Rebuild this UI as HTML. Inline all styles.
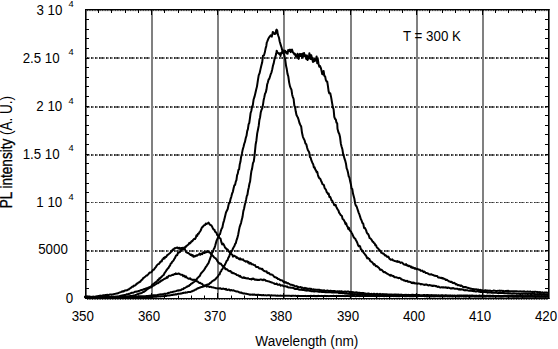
<!DOCTYPE html>
<html><head><meta charset="utf-8"><style>
html,body{margin:0;padding:0;background:#fff;}
svg{display:block;}
text{font-family:'Liberation Sans',sans-serif;fill:#000;}
</style></head><body>
<svg width="558" height="349" viewBox="0 0 558 349">
<rect width="558" height="349" fill="#fff"/>
<defs><pattern id="dp" patternUnits="userSpaceOnUse" x="5" y="0" width="15" height="400"><rect x="0" y="0" width="1" height="400" fill="#303030"/><rect x="1" y="0" width="1" height="400" fill="#707070"/><rect x="2" y="0" width="1" height="400" fill="#a0a0a0"/><rect x="4" y="0" width="1" height="400" fill="#303030"/><rect x="5" y="0" width="1" height="400" fill="#707070"/><rect x="6" y="0" width="1" height="400" fill="#707070"/><rect x="7" y="0" width="1" height="400" fill="#303030"/><rect x="8" y="0" width="1" height="400" fill="#707070"/><rect x="9" y="0" width="1" height="400" fill="#a0a0a0"/><rect x="11" y="0" width="1" height="400" fill="#303030"/><rect x="12" y="0" width="1" height="400" fill="#707070"/><rect x="13" y="0" width="1" height="400" fill="#a0a0a0"/></pattern></defs>
<rect x="87" y="57" width="461" height="2" fill="url(#dp)" shape-rendering="crispEdges"/>
<rect x="87" y="106" width="461" height="2" fill="url(#dp)" shape-rendering="crispEdges"/>
<rect x="87" y="154" width="461" height="2" fill="url(#dp)" shape-rendering="crispEdges"/>
<rect x="87" y="202" width="461" height="1.3" fill="url(#dp)" shape-rendering="crispEdges"/>
<rect x="87" y="250" width="461" height="2" fill="url(#dp)" shape-rendering="crispEdges"/>
<rect x="151" y="10" width="2" height="288" fill="#808080"/>
<rect x="217" y="10" width="2" height="288" fill="#808080"/>
<rect x="283" y="10" width="2" height="288" fill="#808080"/>
<rect x="350" y="10" width="2" height="288" fill="#808080"/>
<rect x="416" y="10" width="2" height="288" fill="#808080"/>
<rect x="482" y="10" width="2" height="288" fill="#808080"/>
<polyline points="84.5,296.66 85.17,296.7 85.84,296.65 86.51,296.49 87.18,296.64 87.85,296.57 88.52,296.71 89.19,296.59 89.86,296.79 90.53,296.77 91.2,296.88 91.87,296.81 92.54,296.83 93.21,296.75 93.88,296.73 94.55,296.94 95.22,296.83 95.89,296.88 96.56,296.87 97.23,296.92 97.9,296.73 98.57,296.74 99.24,296.94 99.91,297.04 100.58,296.78 101.25,296.87 101.92,296.96 102.58,296.91 103.25,296.94 103.92,296.95 104.59,297.08 105.26,297.01 105.93,297.04 106.6,296.94 107.27,297.1 107.94,297.19 108.61,297.12 109.28,297.06 109.95,297 110.62,297.15 111.29,297.16 111.96,297.12 112.63,297.04 113.3,297.1 113.97,297.09 114.64,297.12 115.31,297.22 115.98,297.14 116.65,297.21 117.32,297.34 117.99,297.2 118.66,297.26 119.33,297.33 120,297.25 120.67,297.11 121.33,297.17 122,297.14 122.67,296.88 123.33,296.9 124,296.81 124.67,296.9 125.33,296.57 126,296.61 126.67,296.41 127.33,296.38 128,296.41 128.67,296.3 129.33,296.24 130,296.1 130.71,295.88 131.43,296.01 132.14,295.94 132.86,295.61 133.57,295.42 134.29,295.51 135,295.26 135.68,294.99 136.36,294.85 137.05,294.33 137.73,294.1 138.41,294.02 139.09,293.57 139.77,293.53 140.45,293.33 141.14,293.16 141.82,292.91 142.5,292.31 143.18,292.11 143.85,291.77 144.53,291.47 145.2,291.03 145.88,290.3 146.55,289.88 147.22,289.19 147.9,288.92 148.57,288.39 149.25,287.81 149.92,287.63 150.6,287.55 151.34,287.26 152.09,286.47 152.83,285.91 153.57,285.6 154.31,285.29 155.06,284.78 155.8,284.29 156.53,283.66 157.26,283.19 157.99,283.37 158.71,282.74 159.44,281.66 160.17,281.78 160.9,280.8 161.64,280.71 162.39,280 163.13,279.84 163.87,279.1 164.61,278.76 165.36,278.59 166.1,278.19 166.88,277 167.66,277.6 168.44,276.15 169.22,275.72 170,275.66 170.76,275.77 171.52,275.24 172.28,274.76 173.04,275.08 173.8,274.4 174.48,274.11 175.15,274.21 175.82,273.34 176.5,274.03 177.33,273.97 178.17,273.51 179,273.61 179.7,274.01 180.4,274.61 181.1,274.84 181.8,274.7 182.5,274.98 183.2,276.13 183.9,275.47 184.6,276 185.3,277.09 186,276.4 186.7,277.47 187.4,277.98 188.1,278.46 188.8,278.69 189.5,278.48 190.2,278.24 190.9,279.34 191.6,279.5 192.3,279.81 193,280.02 193.7,279.69 194.4,279.77 195.1,279.71 195.81,280.66 196.53,281.22 197.24,281.13 197.96,281.83 198.67,282.5 199.39,283.09 200.1,282.77 200.86,283.43 201.62,283.7 202.38,284.2 203.14,285.25 203.9,285.78 204.6,285.55 205.3,285.76 206,285.83 206.7,286.61 207.4,286.16 208.1,286.41 208.8,286.43 209.5,287.02 210.2,286.86 210.88,286.69 211.56,287.29 212.25,287.37 212.93,287.39 213.61,287.56 214.29,287.72 214.97,287.86 215.65,288.18 216.34,288.17 217.02,288.36 217.7,288.38 218.4,288.41 219.1,288.33 219.8,288.45 220.5,288.19 221.2,288.88 221.9,289.06 222.6,288.72 223.3,288.59 224,288.99 224.69,288.96 225.38,289.4 226.07,288.92 226.76,289.81 227.44,289.91 228.13,289.81 228.82,289.47 229.51,289.89 230.2,290.46 230.89,290.24 231.57,290.1 232.26,290.44 232.94,290.51 233.63,290.33 234.31,290.69 235,291.01 235.72,291.23 236.44,291.46 237.16,291.54 237.88,291.54 238.6,291.89 239.32,292.43 240.04,292.46 240.76,292.71 241.48,292.59 242.2,293.21 242.91,293.18 243.62,293.56 244.33,293.35 245.04,293.54 245.75,293.66 246.46,293.74 247.17,293.92 247.88,294.14 248.59,294.26 249.3,294.45 250.02,294.69 250.74,294.59 251.46,294.64 252.18,294.49 252.9,294.88 253.62,294.59 254.34,294.52 255.06,294.82 255.78,294.91 256.5,294.77 257.18,295.12 257.86,294.72 258.54,294.75 259.22,294.98 259.9,294.96 260.59,295.01 261.27,295.15 261.95,295.07 262.63,295.31 263.31,294.92 263.99,295.24 264.67,295.4 265.35,295.24 266.03,295.35 266.71,295.44 267.4,295.3 268.08,295.27 268.76,295.12 269.44,295.26 270.12,295.53 270.8,295.41 271.48,295.31 272.16,295.49 272.84,295.48 273.52,295.55 274.2,295.49 274.89,295.6 275.57,295.46 276.25,295.75 276.93,295.66 277.61,295.56 278.29,295.71 278.97,295.65 279.65,295.7 280.33,295.61 281.01,295.66 281.7,295.66 282.38,295.68 283.06,295.8 283.74,295.68 284.42,295.7 285.1,295.82 285.76,295.67 286.43,295.79 287.09,295.83 287.75,295.84 288.42,295.81 289.08,295.65 289.74,295.85 290.41,295.88 291.07,295.75 291.73,295.95 292.4,295.83 293.06,295.75 293.72,295.81 294.39,295.88 295.05,295.81 295.71,295.82 296.38,295.97 297.04,296.08 297.7,295.83 298.37,295.83 299.03,296.11 299.69,295.88 300.36,295.9 301.02,295.91 301.68,295.97 302.35,295.98 303.01,296.02 303.67,296.12 304.34,296.07 305,296.1 305.66,295.82 306.32,296.05 306.98,296.18 307.64,295.91 308.3,296.15 308.96,295.9 309.62,295.93 310.28,295.92 310.94,295.82 311.6,295.96 312.26,295.88 312.92,296.13 313.58,295.86 314.24,295.83 314.9,296.19 315.57,295.98 316.23,296.03 316.89,296.19 317.55,295.95 318.21,295.83 318.87,295.97 319.53,295.99 320.19,295.96 320.85,296.06 321.51,295.86 322.17,296.14 322.83,295.99 323.49,295.98 324.15,296.2 324.81,295.84 325.47,295.94 326.13,296.18 326.79,296.06 327.45,296.08 328.11,295.98 328.77,296.13 329.43,296.09 330.09,295.93 330.75,295.89 331.41,295.92 332.07,296 332.73,295.94 333.39,295.84 334.05,295.91 334.71,296.02 335.38,296.09 336.04,296.01 336.7,295.85 337.36,295.94 338.02,296.07 338.68,295.85 339.34,295.98 340,295.92 340.66,296.04 341.32,296.03 341.98,295.92 342.64,296.09 343.3,296.01 343.96,295.94 344.62,296.07 345.28,296.15 345.94,295.94 346.6,295.93 347.26,296.12 347.92,295.95 348.58,296.08 349.24,296.19 349.9,296.02 350.56,296.05 351.22,295.99 351.88,296.07 352.54,295.88 353.2,295.86 353.86,296.01 354.52,295.86 355.18,296.17 355.85,296.21 356.51,296.05 357.17,295.96 357.83,295.98 358.49,296.06 359.15,295.99 359.81,296.17 360.47,295.96 361.13,296.12 361.79,296.01 362.45,295.88 363.11,296.16 363.77,296.15 364.43,296.05 365.09,296.02 365.75,296.05 366.41,296.03 367.07,295.95 367.73,296.1 368.39,296.1 369.05,296.06 369.71,296.01 370.37,295.98 371.03,295.99 371.69,296.05 372.35,295.88 373.01,295.88 373.67,296.06 374.33,295.95 374.99,296.16 375.65,296.03 376.32,296.04 376.98,296.17 377.64,296.17 378.3,296.05 378.96,296.03 379.62,296.2 380.28,295.94 380.94,295.92 381.6,296.02 382.26,295.9 382.92,295.96 383.58,296.13 384.24,296.19 384.9,296.05 385.56,296.07 386.22,295.96 386.88,296.18 387.54,296.08 388.2,295.96 388.86,296.05 389.52,296.09 390.18,296.13 390.84,296.24 391.5,296.12 392.16,295.89 392.82,296.04 393.48,296.19 394.14,295.93 394.8,296.14 395.46,295.9 396.12,296.25 396.79,295.97 397.45,296.16 398.11,296.01 398.77,296.25 399.43,296.07 400.09,296.16 400.75,295.9 401.41,296.08 402.07,295.94 402.73,295.9 403.39,296.05 404.05,296.04 404.71,296.24 405.37,296.16 406.03,296.05 406.69,296.14 407.35,296.16 408.01,295.96 408.67,296.13 409.33,296.09 409.99,296.17 410.65,296.16 411.31,296.19 411.97,296.15 412.63,296.17 413.29,296.16 413.95,296.23 414.61,296.03 415.27,296.04 415.93,296.18 416.6,296.09 417.26,296.17 417.92,296.04 418.58,295.96 419.24,296.04 419.9,296.01 420.56,296.05 421.22,296.13 421.88,295.95 422.54,295.98 423.2,296.05 423.86,296.07 424.52,296.21 425.18,296.08 425.84,295.93 426.5,296.28 427.16,296.09 427.82,296.2 428.48,296.1 429.14,296.04 429.8,296.28 430.46,295.97 431.12,296.17 431.78,296.14 432.44,296.06 433.1,296.2 433.76,296.19 434.42,296.12 435.08,296.14 435.74,296.07 436.4,295.97 437.07,295.96 437.73,296.15 438.39,296.07 439.05,296.21 439.71,296.03 440.37,296.25 441.03,295.97 441.69,296.15 442.35,295.98 443.01,296.07 443.67,296.29 444.33,296.17 444.99,296.15 445.65,296.09 446.31,296.11 446.97,295.97 447.63,296.12 448.29,296.1 448.95,296.25 449.61,296.15 450.27,296.07 450.93,296.1 451.59,296.13 452.25,296.07 452.91,296.27 453.57,296 454.23,296.09 454.89,295.95 455.55,296.08 456.21,296.27 456.88,296.3 457.54,296.15 458.2,296.14 458.86,296.16 459.52,296.13 460.18,296.09 460.84,295.96 461.5,295.95 462.16,296 462.82,296.1 463.48,296.14 464.14,295.96 464.8,296.1 465.46,296.13 466.12,296.31 466.78,296.12 467.44,295.97 468.1,296.16 468.76,296.13 469.42,296.21 470.08,296.24 470.74,296.16 471.4,296.09 472.06,296.12 472.72,296.18 473.38,296.24 474.04,296.31 474.7,296.14 475.36,296.27 476.02,296.32 476.68,296.06 477.35,296.1 478.01,296.28 478.67,296.21 479.33,296.23 479.99,296.18 480.65,296.32 481.31,296.14 481.97,296.11 482.63,296.01 483.29,296.01 483.95,296.03 484.61,296.18 485.27,296.11 485.93,296.32 486.59,295.98 487.25,296.07 487.91,296.1 488.57,296.25 489.23,296.18 489.89,296.31 490.55,296.19 491.21,296.01 491.87,296.05 492.53,296.22 493.19,296.09 493.85,296.16 494.51,295.98 495.17,296.12 495.83,296.14 496.49,296.25 497.15,296.06 497.82,295.99 498.48,296.21 499.14,296.18 499.8,296.18 500.46,296.07 501.12,296.01 501.78,296.03 502.44,296.14 503.1,296.19 503.76,295.99 504.42,296.06 505.08,296.02 505.74,296.1 506.4,296.16 507.06,296.18 507.72,296.13 508.38,296.24 509.04,296.29 509.7,296.02 510.36,296.34 511.02,296.13 511.68,296.29 512.34,296.25 513,296.34 513.66,296.06 514.32,296.3 514.98,296.16 515.64,296.06 516.3,296.35 516.96,296.35 517.62,296.35 518.29,296.22 518.95,296.24 519.61,296.27 520.27,296.07 520.93,296.22 521.59,296.04 522.25,296.09 522.91,296.16 523.57,296.14 524.23,296.13 524.89,296.23 525.55,296.31 526.21,296.16 526.87,296.26 527.53,296.18 528.19,296.13 528.85,296.06 529.51,296.15 530.17,296.25 530.83,296.01 531.49,296.05 532.15,296.06 532.81,296.19 533.47,296.27 534.13,296.16 534.79,296.06 535.45,296.36 536.11,296.22 536.77,296.2 537.43,296.13 538.1,296.09 538.76,296.31 539.42,296.12 540.08,296.17 540.74,296.35 541.4,296.05 542.06,296.25 542.72,296.21 543.38,296.23 544.04,296.37 544.7,296.09 545.36,296.23 546.02,296.24 546.68,296.28 547.34,296.05 548,296.2" fill="none" stroke="#000" stroke-width="2" stroke-linejoin="round"/>
<polyline points="84.5,296.95 85.2,296.96 85.9,297.1 86.6,296.92 87.3,296.83 88,296.96 88.7,296.93 89.4,296.96 90.1,296.86 90.8,297.01 91.5,296.92 92.2,296.99 92.9,296.89 93.6,296.85 94.3,296.94 95,296.88 95.71,296.57 96.43,296.57 97.14,296.26 97.86,296.31 98.57,295.95 99.29,295.9 100,295.61 100.72,295.67 101.45,295.73 102.17,295.63 102.9,295.32 103.62,295.15 104.35,295.35 105.08,295.08 105.8,295 106.51,295.12 107.22,294.77 107.93,294.98 108.64,294.94 109.35,294.71 110.06,294.49 110.77,294.51 111.48,294.69 112.19,294.41 112.9,294.5 113.62,294.15 114.34,294 115.06,293.86 115.78,293.69 116.5,293.56 117.22,293.45 117.94,293.32 118.66,292.88 119.38,292.53 120.1,292.38 120.82,292.04 121.54,291.62 122.26,291.66 122.98,291.22 123.7,291.44 124.42,290.76 125.14,290.35 125.86,290.53 126.58,290.22 127.3,290.2 128.1,289.57 128.9,289.43 129.7,288.41 130.5,288.17 131.17,287.58 131.84,287.15 132.51,286.43 133.19,286.62 133.86,285.59 134.53,285.73 135.2,285.34 135.93,284.77 136.66,283.61 137.39,283.79 138.11,282.76 138.84,282.55 139.57,281.74 140.3,281.82 141.04,280.42 141.79,279.83 142.53,279.31 143.27,277.98 144.01,277.63 144.76,277.03 145.5,276.5 146.28,275.5 147.05,275.47 147.82,274.7 148.6,273.8 149.35,272.8 150.1,272.57 150.85,272.46 151.6,271.96 152.3,270.92 153,269.72 153.7,269.77 154.4,268.92 155.1,267.94 155.8,267.16 156.55,265.77 157.3,264.87 158.05,264.12 158.8,264.02 159.55,263.15 160.3,261.87 161,261.35 161.7,261.42 162.4,259.39 163.1,259.03 163.8,257.89 164.5,258.55 165.2,256.82 165.97,257.09 166.73,256.08 167.5,254.67 168.27,254.68 169.03,253.79 169.8,253.28 170.53,252.35 171.25,251.81 171.97,251.02 172.7,249.49 173.38,249.99 174.05,248.77 174.72,248.12 175.4,248.29 176.07,247.85 176.75,247.83 177.43,247.44 178.1,248.4 178.78,248.49 179.45,247.7 180.12,248.9 180.8,248.16 181.67,247.88 182.53,247.83 183.4,248.75 184.1,248.7 184.8,249.15 186.1,252.08 187,252.62 187.9,252.96 188.57,252.98 189.25,253.89 189.93,254.29 190.6,254.88 191.32,254.54 192.04,255.64 192.76,255.16 193.48,256.75 194.2,255.98 194.88,256.5 195.55,256.09 196.22,255.4 196.9,255.82 197.57,255.13 198.25,254.8 198.93,254.63 199.6,253.45 200.28,254.83 200.95,254.16 201.62,253.55 202.3,254.16 203,252.69 203.7,252.18 204.4,253.01 205.1,252.21 205.8,252.46 206.48,251.97 207.15,251.92 207.82,251.27 208.5,251.56 209.4,252.45 210.3,252.7 211.2,254.5 212.1,255.11 212.78,255.79 213.45,256.46 214.12,257.41 214.8,257.82 215.48,258.14 216.15,259.16 216.82,259.82 217.5,261.37 218.18,262.12 218.85,262.86 219.52,263.75 220.2,263.57 220.96,263.8 221.72,264.95 222.48,266 223.24,266.04 224,266.93 224.67,267.47 225.34,269.14 226.01,269.38 226.69,269.07 227.36,269.64 228.03,270.35 228.7,270.89 229.42,271.21 230.14,270.97 230.87,271.38 231.59,272.69 232.31,272.44 233.03,273.21 233.76,273.12 234.48,273.56 235.2,273.9 235.9,274.03 236.6,274.94 237.3,275.14 238,275.13 238.7,275.56 239.4,276.44 240.1,275.81 240.8,276.83 241.5,277.28 242.2,277.78 242.91,277.88 243.62,277.21 244.33,277.95 245.04,277.67 245.75,278.25 246.46,278.16 247.17,278.57 247.88,278.16 248.59,278.61 249.3,278.89 250.02,278.96 250.74,279.16 251.46,279.47 252.18,278.65 252.9,279.08 253.62,278.56 254.34,279.41 255.06,279.81 255.78,279.4 256.5,279.82 257.22,280.02 257.94,279.69 258.66,279.93 259.38,280.01 260.1,279.49 260.82,279.4 261.54,279.76 262.26,279.66 262.98,280.24 263.7,279.56 264.41,279.77 265.12,279.98 265.83,280.8 266.54,280.85 267.25,281.08 267.96,281.23 268.67,281.4 269.38,281.52 270.09,282.05 270.8,282.12 271.52,282.51 272.24,282.61 272.96,282.88 273.68,283.09 274.4,283.79 275.12,284.01 275.84,284.08 276.56,283.48 277.28,284.36 278,284.81 278.71,284.74 279.42,284.37 280.13,284.94 280.84,285.7 281.55,285.39 282.26,285.24 282.97,285.81 283.68,286.35 284.39,286.31 285.1,286.17 285.82,286.22 286.54,286.85 287.26,286.52 287.98,287.35 288.7,287.56 289.42,287.49 290.14,287.54 290.86,287.66 291.58,287.78 292.3,287.8 293.02,287.89 293.74,288.03 294.46,288.81 295.18,288.95 295.9,288.71 296.62,288.97 297.34,288.9 298.06,289.15 298.78,289.58 299.5,289.64 300.18,289.74 300.87,289.77 301.55,289.89 302.24,289.63 302.92,290.07 303.61,289.64 304.29,290.15 304.97,290.28 305.66,290.4 306.34,290.05 307.03,290.71 307.71,290.33 308.39,290.35 309.08,290.77 309.76,290.88 310.45,290.66 311.13,291.16 311.82,291.16 312.5,291.28 313.16,291.06 313.83,291.53 314.49,291.42 315.15,291.39 315.82,291.24 316.48,291.37 317.14,291.49 317.81,291.27 318.47,291.46 319.13,291.92 319.79,291.67 320.46,291.73 321.12,291.69 321.78,291.98 322.45,292.05 323.11,291.94 323.77,291.84 324.44,292.1 325.1,292.18 325.79,292 326.49,292.17 327.18,292.21 327.88,292.3 328.57,292.2 329.27,292.09 329.96,292.26 330.66,292.2 331.35,292.3 332.04,292.62 332.74,292.53 333.43,292.41 334.13,292.51 334.82,292.58 335.52,292.58 336.21,292.46 336.91,292.49 337.6,292.3 338.26,292.67 338.93,293.02 339.59,292.65 340.25,293.13 340.92,292.77 341.58,292.9 342.24,293.25 342.91,292.93 343.57,293.07 344.23,293.44 344.89,293.26 345.56,293.49 346.22,293.69 346.88,293.31 347.55,293.75 348.21,293.88 348.87,293.67 349.54,293.71 350.2,293.94 350.86,293.95 351.52,294.14 352.18,293.72 352.84,293.97 353.5,294.19 354.16,294.16 354.82,294.05 355.48,294.28 356.14,294.29 356.8,294.1 357.46,294.03 358.12,294.34 358.78,294.35 359.44,294.44 360.1,294.52 360.76,294.37 361.42,294.45 362.08,294.76 362.74,294.53 363.4,294.5 364.06,294.56 364.72,294.84 365.38,295.03 366.04,295.01 366.7,294.68 367.36,294.94 368.02,294.89 368.68,295.14 369.34,295.1 370,295.08 370.67,295.03 371.33,295.31 372,294.95 372.67,295.11 373.33,295.03 374,295.34 374.67,295.41 375.33,295.3 376,295.38 376.67,295.27 377.33,295.08 378,295.31 378.67,295.51 379.33,295.26 380,295.46 380.67,295.16 381.33,295.44 382,295.56 382.67,295.44 383.33,295.21 384,295.44 384.67,295.33 385.33,295.58 386,295.52 386.67,295.48 387.33,295.54 388,295.38 388.67,295.5 389.33,295.65 390,295.62 390.67,295.78 391.33,295.69 392,295.81 392.67,295.53 393.33,295.63 394,295.69 394.67,295.52 395.33,295.74 396,295.66 396.67,295.71 397.33,295.71 398,295.8 398.67,295.88 399.33,295.75 400,295.89 400.67,295.63 401.33,295.73 402,295.7 402.67,295.9 403.33,295.85 404,295.76 404.67,295.87 405.33,295.85 406,295.71 406.67,296.02 407.33,295.88 408,295.98 408.67,296.04 409.33,296.08 410,295.93 410.67,295.87 411.33,295.85 412,295.9 412.67,296.01 413.33,295.94 414,295.9 414.67,295.81 415.33,295.92 416,296.11 416.67,296.06 417.33,296.02 418,296.15 418.67,296.11 419.33,295.86 420,296.12 420.67,295.95 421.33,296.11 422,295.94 422.67,295.99 423.33,295.85 424,295.98 424.67,296.11 425.33,296.09 426,296.19 426.67,296.08 427.33,296.18 428,296.17 428.67,296.16 429.33,296.21 430,296.06 430.67,296.28 431.33,296.22 432,295.94 432.67,295.95 433.33,296.19 434,296.2 434.67,296.07 435.33,296.33 436,296.13 436.67,296.27 437.33,296.32 438,296.12 438.67,296.05 439.33,296.17 440,296.12 440.67,296.29 441.33,296.07 442,296.33 442.67,296.4 443.33,296.23 444,296.2 444.67,296.31 445.33,296.27 446,296.17 446.67,296.12 447.33,296.44 448,296.19 448.67,296.31 449.33,296.36 450,296.39 450.66,296.36 451.32,296.22 451.99,296.36 452.65,296.38 453.31,296.19 453.97,296.39 454.64,296.16 455.3,296.34 455.96,296.21 456.62,296.23 457.28,296.41 457.95,296.19 458.61,296.38 459.27,296.44 459.93,296.23 460.59,296.35 461.26,296.49 461.92,296.31 462.58,296.38 463.24,296.46 463.91,296.44 464.57,296.52 465.23,296.32 465.89,296.54 466.55,296.46 467.22,296.37 467.88,296.25 468.54,296.48 469.2,296.4 469.86,296.34 470.53,296.51 471.19,296.51 471.85,296.51 472.51,296.3 473.18,296.33 473.84,296.29 474.5,296.43 475.16,296.57 475.82,296.55 476.49,296.57 477.15,296.29 477.81,296.45 478.47,296.37 479.14,296.44 479.8,296.48 480.46,296.5 481.12,296.3 481.78,296.59 482.45,296.41 483.11,296.53 483.77,296.31 484.43,296.5 485.09,296.5 485.76,296.64 486.42,296.33 487.08,296.46 487.74,296.36 488.41,296.34 489.07,296.62 489.73,296.5 490.39,296.54 491.05,296.52 491.72,296.48 492.38,296.49 493.04,296.38 493.7,296.6 494.36,296.59 495.03,296.51 495.69,296.69 496.35,296.55 497.01,296.45 497.68,296.59 498.34,296.62 499,296.43 499.66,296.6 500.32,296.64 500.99,296.53 501.65,296.64 502.31,296.67 502.97,296.43 503.64,296.64 504.3,296.51 504.96,296.48 505.62,296.61 506.28,296.53 506.95,296.6 507.61,296.53 508.27,296.48 508.93,296.62 509.59,296.56 510.26,296.59 510.92,296.54 511.58,296.63 512.24,296.6 512.91,296.72 513.57,296.57 514.23,296.66 514.89,296.55 515.55,296.48 516.22,296.69 516.88,296.62 517.54,296.66 518.2,296.74 518.86,296.53 519.53,296.57 520.19,296.57 520.85,296.6 521.51,296.81 522.18,296.67 522.84,296.69 523.5,296.61 524.16,296.68 524.82,296.66 525.49,296.82 526.15,296.64 526.81,296.78 527.47,296.65 528.14,296.68 528.8,296.63 529.46,296.76 530.12,296.68 530.78,296.79 531.45,296.72 532.11,296.66 532.77,296.63 533.43,296.77 534.09,296.6 534.76,296.77 535.42,296.59 536.08,296.78 536.74,296.76 537.41,296.73 538.07,296.8 538.73,296.62 539.39,296.71 540.05,296.8 540.72,296.86 541.38,296.77 542.04,296.79 542.7,296.77 543.36,296.85 544.03,296.69 544.69,296.64 545.35,296.88 546.01,296.83 546.68,296.67 547.34,296.82 548,296.8" fill="none" stroke="#000" stroke-width="2" stroke-linejoin="round"/>
<polyline points="84.5,297.26 85.16,297.29 85.82,297.27 86.48,297.33 87.15,297.19 87.81,297.21 88.47,297.19 89.13,297.21 89.79,297.36 90.45,297.31 91.11,297.24 91.77,297.25 92.44,297.39 93.1,297.25 93.76,297.3 94.42,297.38 95.08,297.44 95.74,297.45 96.4,297.34 97.06,297.3 97.73,297.32 98.39,297.43 99.05,297.43 99.71,297.5 100.37,297.48 101.03,297.51 101.69,297.39 102.35,297.4 103.02,297.47 103.68,297.51 104.34,297.45 105,297.57 105.68,297.35 106.37,297.39 107.05,297.28 107.74,297.32 108.42,297.27 109.11,297.16 109.79,297.16 110.47,297.18 111.16,296.97 111.84,296.91 112.53,296.84 113.21,296.84 113.89,296.73 114.58,296.62 115.26,296.77 115.95,296.54 116.63,296.45 117.32,296.6 118,296.37 118.7,296.4 119.4,296.31 120.1,295.93 120.8,295.75 121.5,295.88 122.2,295.4 122.9,295.28 123.6,295.18 124.3,295.03 125,295.17 125.71,294.74 126.43,294.3 127.14,294.53 127.86,294.18 128.57,293.82 129.29,293.9 130,293.55 130.74,293.31 131.49,292.85 132.23,292.75 132.97,292.83 133.71,292.45 134.46,292.06 135.2,291.62 135.93,291.78 136.66,291.51 137.39,291.47 138.11,291.19 138.84,291.02 139.57,290.63 140.3,290.49 141.04,290.07 141.79,290.03 142.53,289.81 143.27,289.58 144.01,289.08 144.76,289.13 145.5,288.77 146.23,288.25 146.96,288.21 147.69,288.06 148.41,287.48 149.14,287.71 149.87,287.09 150.6,286.99 151.34,286.22 152.09,284.93 152.83,284.26 153.57,284.21 154.31,283.28 155.06,282.58 155.8,282.26 156.53,281.55 157.26,280.87 157.99,279.8 158.71,279.94 159.44,278.25 160.17,278.51 160.9,277.3 161.58,277.05 162.27,276.01 162.95,275.36 163.63,275.05 164.32,273.49 165,272.36 165.71,271.64 166.43,270.19 167.14,269.47 167.86,268.34 168.57,267.83 169.29,266.26 170,265.63 170.72,263.56 171.44,263.21 172.16,261.77 172.88,261.15 173.6,260.29 174.32,258.85 175.04,257.93 175.76,256.03 176.48,255.14 177.2,255.34 177.92,252.85 178.64,252.74 179.36,252.34 180.08,251.82 180.8,250.19 181.5,249.9 182.2,249.6 182.9,249.44 183.6,248.14 184.3,247.36 185.02,247.7 185.73,247.05 186.45,245.65 187.17,245.64 187.88,244.85 188.6,244.45 189.32,242.86 190.03,243.34 190.75,242.56 191.47,241.24 192.18,241.37 192.9,240.24 193.62,239.45 194.33,238.71 195.05,238.94 195.77,237.7 196.48,235.37 197.2,235.88 197.92,233.81 198.63,233.81 199.35,232.33 200.07,231.63 200.78,230.36 201.5,228.33 202.22,227.16 202.95,226.6 203.68,225.58 204.4,225.14 205.1,224.94 205.8,223.56 206.5,224.01 207.17,223.42 207.83,223.57 208.5,222.56 209.3,223.86 210.1,224.8 210.82,225.09 211.55,225.64 212.28,227.05 213,228.69 213.7,229.62 214.4,229.65 215.1,231.77 215.8,232.1 216.53,233.02 217.25,235.27 217.97,235.75 218.7,236.62 219.6,238 220.5,238.52 221.35,242.12 222.2,244.49 222.92,243.52 223.64,244.39 224.36,245.9 225.08,247.65 225.8,248.12 226.52,249.08 227.24,249.17 227.96,249.92 228.68,251.56 229.4,251.48 230.12,253.59 230.84,254.02 231.56,254.29 232.28,254.66 233,256.63 233.7,256.11 234.4,255.68 235.1,256.38 235.8,256.38 236.5,257.95 237.2,257.31 237.92,258.13 238.65,258.66 239.38,259.36 240.1,258.24 240.82,259.58 241.55,259.3 242.28,259.74 243,259.31 243.7,260.44 244.4,260.82 245.1,261.19 245.8,261.65 246.5,261.27 247.2,261.2 247.9,262.58 248.6,261.93 249.3,263.66 250.02,263.09 250.74,262.87 251.46,264.37 252.18,264.27 252.9,264.36 253.62,264.82 254.34,265.28 255.06,265.11 255.78,266.63 256.5,267.06 257.22,266.89 257.94,266.89 258.66,267.72 259.38,268.43 260.1,268.51 260.82,268.56 261.54,269.19 262.26,268.85 262.98,270.11 263.7,270.75 264.41,270.88 265.12,271.37 265.83,271.62 266.54,271.28 267.25,272.85 267.96,273.19 268.67,272.7 269.38,273.44 270.09,274.3 270.8,274.61 271.52,274.42 272.24,274.86 272.96,275.23 273.68,276.25 274.4,276.89 275.12,277.3 275.84,277.32 276.56,277.96 277.28,278.1 278,279.11 278.71,279.09 279.42,279.3 280.13,280.2 280.84,280.11 281.55,280.36 282.26,280.48 282.97,281.15 283.68,282.02 284.39,281.5 285.1,282.59 285.82,282.15 286.54,282.53 287.26,283.42 287.98,283.08 288.7,283.57 289.42,283.83 290.14,284.65 290.86,284.69 291.58,284.68 292.3,285 293.02,285.44 293.74,285.33 294.46,285.94 295.18,286.27 295.9,286.37 296.62,286.08 297.34,286.98 298.06,286.8 298.78,287.41 299.5,287.36 300.18,287.3 300.87,287.02 301.55,287.96 302.24,287.47 302.92,287.91 303.61,288.17 304.29,288.4 304.97,287.89 305.66,288.64 306.34,288.21 307.03,288.42 307.71,288.98 308.39,288.68 309.08,288.82 309.76,288.61 310.45,289.07 311.13,288.79 311.82,289.34 312.5,289.56 313.16,289.49 313.83,289.3 314.49,289.98 315.15,289.63 315.82,289.61 316.48,289.79 317.14,289.64 317.81,289.75 318.47,289.67 319.13,289.9 319.79,289.79 320.46,290.29 321.12,290.18 321.78,290.28 322.45,290.48 323.11,290.37 323.77,290.91 324.44,290.35 325.1,290.75 325.79,290.87 326.49,290.7 327.18,290.57 327.88,290.58 328.57,291.12 329.27,290.84 329.96,291.03 330.66,290.63 331.35,290.86 332.04,291.13 332.74,291.04 333.43,291.1 334.13,290.95 334.82,291.37 335.52,291.16 336.21,291.38 336.91,291.38 337.6,291.17 338.26,291.32 338.93,291.4 339.59,291.23 340.25,291.44 340.92,291.34 341.58,291.22 342.24,291.57 342.91,291.64 343.57,291.79 344.23,291.78 344.89,291.54 345.56,291.58 346.22,292 346.88,291.67 347.55,291.54 348.21,291.57 348.87,291.77 349.54,292.28 350.2,291.72 350.89,292.33 351.59,291.99 352.28,292.14 352.98,292.09 353.67,292.64 354.37,292.67 355.06,292.32 355.76,292.62 356.45,292.3 357.14,292.57 357.84,292.78 358.53,292.72 359.23,292.96 359.92,292.65 360.62,293.29 361.31,293.01 362.01,292.85 362.7,293.04 363.36,292.98 364.03,293.13 364.69,293.53 365.35,293.41 366.02,293.67 366.68,293.72 367.35,293.85 368.01,293.5 368.67,293.51 369.34,293.79 370,294.03 370.67,294.05 371.33,293.83 372,293.95 372.67,294.15 373.33,294.13 374,293.69 374.67,294.1 375.33,294.14 376,294.08 376.67,294.02 377.33,293.79 378,294.13 378.67,294.26 379.33,294.25 380,293.88 380.67,294.33 381.33,294.29 382,294.37 382.67,294.08 383.33,294.27 384,294.14 384.67,294.26 385.33,294.31 386,294.39 386.67,294.17 387.33,294.53 388,294.64 388.67,294.43 389.33,294.48 390,294.46 390.67,294.43 391.33,294.47 392,294.47 392.67,294.79 393.33,294.61 394,294.44 394.67,294.48 395.33,294.58 396,294.44 396.67,294.76 397.33,294.85 398,294.5 398.67,294.6 399.33,294.68 400,294.67 400.67,294.93 401.33,294.59 402,294.83 402.67,294.93 403.33,295.07 404,294.87 404.67,294.91 405.33,295.06 406,294.68 406.67,294.86 407.33,295.09 408,294.83 408.67,294.99 409.33,295.06 410,294.99 410.67,295.08 411.33,294.95 412,294.77 412.67,294.79 413.33,294.79 414,295.1 414.67,295 415.33,294.96 416,294.83 416.67,295.25 417.33,295.11 418,294.89 418.67,295.18 419.33,295.09 420,295.22 420.67,295.31 421.33,295.32 422,295.16 422.67,295.13 423.33,295.1 424,294.96 424.67,295 425.33,295.37 426,295.12 426.67,295.03 427.33,295.11 428,294.98 428.67,295.29 429.33,295.12 430,295.23 430.67,295.14 431.33,295.03 432,295.46 432.67,295.24 433.33,295.13 434,295.14 434.67,295.25 435.33,295.25 436,295.15 436.67,295.18 437.33,295.36 438,295.51 438.67,295.18 439.33,295.36 440,295.49 440.67,295.54 441.33,295.26 442,295.24 442.67,295.29 443.33,295.46 444,295.57 444.67,295.42 445.33,295.3 446,295.33 446.67,295.53 447.33,295.39 448,295.42 448.67,295.5 449.33,295.45 450,295.52 450.66,295.35 451.32,295.51 451.99,295.62 452.65,295.52 453.31,295.61 453.97,295.64 454.64,295.54 455.3,295.71 455.96,295.65 456.62,295.67 457.28,295.56 457.95,295.6 458.61,295.75 459.27,295.53 459.93,295.72 460.59,295.41 461.26,295.42 461.92,295.54 462.58,295.71 463.24,295.59 463.91,295.49 464.57,295.74 465.23,295.56 465.89,295.57 466.55,295.56 467.22,295.56 467.88,295.6 468.54,295.72 469.2,295.75 469.86,295.51 470.53,295.9 471.19,295.57 471.85,295.71 472.51,295.54 473.18,295.8 473.84,295.67 474.5,295.84 475.16,295.68 475.82,295.9 476.49,295.61 477.15,295.8 477.81,295.88 478.47,295.75 479.14,295.61 479.8,295.61 480.46,295.8 481.12,295.63 481.78,295.85 482.45,295.76 483.11,295.77 483.77,295.76 484.43,295.81 485.09,295.91 485.76,295.92 486.42,295.68 487.08,295.96 487.74,295.79 488.41,296.07 489.07,295.8 489.73,295.75 490.39,295.77 491.05,295.92 491.72,295.91 492.38,295.81 493.04,295.82 493.7,295.81 494.36,296.11 495.03,295.96 495.69,295.92 496.35,295.96 497.01,295.99 497.68,295.95 498.34,296.03 499,296.1 499.66,296.01 500.32,296 500.99,295.95 501.65,296.1 502.31,296.02 502.97,296.08 503.64,295.97 504.3,296.15 504.96,295.97 505.62,296.13 506.28,295.97 506.95,296.04 507.61,296.26 508.27,296.15 508.93,296.11 509.59,296.2 510.26,296.22 510.92,296.13 511.58,296.05 512.24,295.96 512.91,296.04 513.57,296.32 514.23,296.16 514.89,296.18 515.55,296.19 516.22,296.07 516.88,296.19 517.54,296.07 518.2,296.29 518.86,296.35 519.53,296.22 520.19,296.37 520.85,296.39 521.51,296.16 522.18,296.25 522.84,296.14 523.5,296.23 524.16,296.42 524.82,296.34 525.49,296.1 526.15,296.36 526.81,296.29 527.47,296.12 528.14,296.38 528.8,296.28 529.46,296.19 530.12,296.26 530.78,296.2 531.45,296.22 532.11,296.35 532.77,296.2 533.43,296.25 534.09,296.28 534.76,296.42 535.42,296.43 536.08,296.48 536.74,296.48 537.41,296.33 538.07,296.35 538.73,296.26 539.39,296.55 540.05,296.49 540.72,296.53 541.38,296.32 542.04,296.43 542.7,296.39 543.36,296.61 544.03,296.35 544.69,296.42 545.35,296.5 546.01,296.49 546.68,296.41 547.34,296.51 548,296.5" fill="none" stroke="#000" stroke-width="2" stroke-linejoin="round"/>
<polyline points="84.5,297.09 85.17,297 85.84,296.99 86.51,296.9 87.18,297.04 87.85,297.08 88.52,297.02 89.19,297.04 89.86,296.96 90.53,297.19 91.2,297.12 91.87,297.08 92.54,297.16 93.21,297.15 93.88,297.14 94.55,297.13 95.22,297.16 95.89,297.19 96.56,297.23 97.23,297.24 97.9,297.22 98.57,297.27 99.24,297.2 99.91,297.1 100.58,297.12 101.25,297.3 101.92,297.13 102.58,297.2 103.25,297.26 103.92,297.34 104.59,297.17 105.26,297.21 105.93,297.25 106.6,297.26 107.27,297.32 107.94,297.38 108.61,297.38 109.28,297.45 109.95,297.46 110.62,297.28 111.29,297.28 111.96,297.37 112.63,297.38 113.3,297.47 113.97,297.45 114.64,297.47 115.31,297.43 115.98,297.47 116.65,297.48 117.32,297.45 117.99,297.51 118.66,297.4 119.33,297.55 120,297.53 120.67,297.58 121.33,297.47 122,297.37 122.67,297.42 123.33,297.43 124,297.38 124.67,297.34 125.33,297.39 126,297.31 126.67,297.46 127.33,297.28 128,297.4 128.67,297.42 129.33,297.37 130,297.42 130.67,297.35 131.33,297.37 132,297.24 132.67,297.2 133.33,297.24 134,297.28 134.67,297.32 135.33,297.16 136,297.19 136.67,297.16 137.33,297.27 138,297.16 138.67,297.27 139.33,297.15 140,297.11 140.67,297.1 141.33,297.03 142,297.01 142.67,297.07 143.33,297.05 144,297.22 144.67,297.12 145.33,297.14 146,297.07 146.67,297.04 147.33,296.93 148,296.93 148.67,297.13 149.33,296.97 150,296.96 150.68,297.02 151.37,296.89 152.05,296.85 152.74,296.97 153.42,296.82 154.11,296.71 154.79,296.67 155.47,296.59 156.16,296.65 156.84,296.63 157.53,296.48 158.21,296.47 158.89,296.29 159.58,296.38 160.26,296.44 160.95,296.22 161.63,296.27 162.32,296.16 163,296.15 163.7,296.14 164.4,295.91 165.1,296.06 165.8,295.99 166.5,295.89 167.2,295.55 167.9,295.37 168.6,295.41 169.3,295.41 170,295.29 170.69,295.16 171.39,295.07 172.08,294.9 172.78,294.93 173.47,294.51 174.17,294.65 174.86,294.56 175.56,294.28 176.25,294.5 176.94,294.18 177.64,294.06 178.33,293.7 179.03,293.82 179.72,293.7 180.42,293.74 181.11,293.35 181.81,293.51 182.5,292.96 183.17,293.08 183.85,292.67 184.52,292.84 185.19,292.86 185.87,292.31 186.54,292.61 187.21,292.45 187.89,291.93 188.56,291.93 189.23,291.89 189.91,291.98 190.58,292.04 191.25,291.5 191.93,291.32 192.6,291.32 193.37,290.59 194.13,290.56 194.9,289.96 195.67,289.46 196.43,289.39 197.2,288.53 197.91,288.16 198.62,288.35 199.34,287.73 200.05,287.61 200.76,287.26 201.47,287.09 202.19,286.91 202.9,286.68 203.61,285.97 204.32,286.34 205.04,285.55 205.75,285.23 206.46,285.28 207.18,284.59 207.89,284.55 208.6,284.44 209.32,283.86 210.05,282.94 210.78,282.88 211.5,281.99 212.22,281.29 212.95,280.75 213.68,280.62 214.4,279.77 215.15,279.61 215.9,278.59 216.65,277.66 217.4,277.03 218.15,276.11 218.9,274.6 219.6,274.39 220.3,272.03 221,271.55 221.7,269.67 222.4,269.08 223.08,267.75 223.76,266.07 224.44,265.67 225.12,264.21 225.8,262.9 226.63,260.77 227.47,260.33 228.3,257.89 229.13,256.68 229.97,253.82 230.8,253.67 231.52,251.3 232.24,250.6 232.96,248.41 233.68,247.19 234.4,246.08 235.1,243.98 235.8,243.16 236.5,240.3 237.2,238.45 238.1,235 239,230.13 239.68,226.89 240.35,224.82 241.02,223.04 241.7,220.07 242.5,217.03 243.3,211.37 244.1,208.45 244.77,204.95 245.43,202.54 246.1,199.64 246.77,196.12 247.43,194.74 248.1,190.26 248.77,187.45 249.43,183.78 250.1,181.49 250.77,175.61 251.43,170.92 252.1,168.6 252.95,163.17 253.8,161.41 254.6,155.17 255.6,144.78 256.4,140.45 257.2,133.42 257.95,129.74 258.7,125.88 259.4,119.9 260.1,117.23 260.8,112.17 261.5,109.84 262.25,108.27 263,104.58 263.67,99.98 264.33,97.13 265,93.69 265.73,92.52 266.47,89.55 267.2,84.24 267.9,82.32 268.6,79.48 269.3,78.74 270.03,76.48 270.77,74.03 271.5,72.26 272.25,69.23 273,65.53 273.7,63.43 274.4,59.78 275.4,56.66 276.3,53.29 276.7,50.65 277.4,52.85 278.1,52.77 279,53.92 279.9,53.3 280.47,55.96 281.03,52.91 281.6,53.59 282.2,51.66 282.8,52.52 283.4,53.15 284,50.39 284.6,51.75 285.2,50.89 285.8,51.92 286.4,53.4 287,51.7 287.6,53.72 288.2,49.91 288.8,50.39 289.4,50.84 290,49.61 290.6,52.13 291.3,49.89 292,49.6 292.9,52.38 293.7,53.08 294.3,54.18 294.9,53.72 295.5,55.63 296.2,56.71 296.9,55.46 297.5,53.7 298.1,56.95 298.7,58.89 299.3,54.46 299.9,53.92 300.5,56.02 301.1,54.03 301.7,54.12 302.3,57.51 302.9,53.42 303.5,56.6 304.1,52.94 304.67,56.2 305.23,55.85 305.8,55.22 306.4,59.02 307,55.57 307.6,60.01 308.2,57.43 308.8,58.49 309.4,53.14 310,57.39 310.6,58.99 311.2,55.13 311.8,57.18 312.4,59.84 313,61.97 313.6,60.04 314.2,58.92 314.8,61.2 315.4,59.88 316,58.73 316.6,56.52 317.2,63.25 317.8,59.05 318.4,63.23 319.3,66.76 320.05,66.01 320.8,67.84 321.5,70.45 322.2,74.13 322.9,74.41 323.6,70.98 324.35,75.91 325.1,76.29 325.8,79.9 326.5,81.42 327.2,81.38 327.9,85.94 328.6,91.17 329.3,93.32 330.25,93.26 331.2,97.62 332.2,103.61 332.9,107.42 333.6,109.27 334.3,116.83 335.05,118.89 335.8,119.49 336.5,122.71 337.2,123.27 337.5,128.76 338.4,132.24 339.3,134.04 340.07,137.31 340.85,143.74 341.62,146.78 342.4,149.3 343.12,153.83 343.85,156.21 344.57,158.95 345.3,160.94 345.98,163.72 346.66,168.3 347.34,169.92 348.02,172.6 348.7,176.26 349.43,177.62 350.15,181.33 350.88,184.26 351.6,188.55 352.3,189.1 353,193.57 353.7,196.27 354.4,198.83 355.12,203.5 355.83,205.6 356.55,206.18 357.27,208.44 357.98,210.64 358.7,212.86 359.4,214.46 360.1,216.65 360.8,219 361.5,220.23 362.37,222.92 363.23,223.62 364.1,227.98 364.78,227.8 365.46,228.96 366.14,230.38 366.82,232.67 367.5,233.61 368.22,234.06 368.93,235.9 369.65,238.15 370.37,238.41 371.08,239.21 371.8,240.1 372.52,241.66 373.23,241.68 373.95,243.09 374.67,243.33 375.38,245.37 376.1,245.27 376.83,247.48 377.56,248.03 378.29,248.46 379.01,249.95 379.74,250.9 380.47,250.58 381.2,252.67 381.94,252.85 382.69,253.61 383.43,253.52 384.17,254.24 384.91,255.46 385.66,255.33 386.4,256.07 387.13,257.01 387.86,256.47 388.59,256.8 389.31,258.59 390.04,259.02 390.77,259.81 391.5,259.86 392.24,259.31 392.99,260.39 393.73,260.58 394.47,260.96 395.21,261.09 395.96,261.33 396.7,261.66 397.44,261.11 398.19,261.97 398.93,261.5 399.67,261.99 400.41,262.94 401.16,262.48 401.9,262.42 402.59,263.04 403.28,263.96 403.97,264.44 404.66,264.45 405.35,264.99 406.04,264.04 406.73,265 407.42,265.72 408.11,265.53 408.8,266.17 409.51,265.82 410.22,266.42 410.92,267.29 411.63,266.6 412.34,267.92 413.05,267.56 413.75,267.67 414.46,268.69 415.17,268.16 415.88,268.93 416.58,269.26 417.29,268.8 418,269.21 418.69,269.56 419.39,269.8 420.08,269.86 420.77,270.83 421.47,270.84 422.16,270.58 422.85,271.15 423.55,271.99 424.24,271.42 424.93,272 425.63,273.02 426.32,273.1 427.01,273.01 427.71,273.47 428.4,273.71 429.09,274.37 429.79,274.46 430.48,274.46 431.17,274.19 431.86,274.56 432.56,274.96 433.25,274.92 433.94,275.45 434.64,275.68 435.33,275.79 436.02,275.99 436.71,275.92 437.41,276.21 438.1,277.39 438.8,277.63 439.5,277.52 440.2,277.81 440.9,277.9 441.6,277.8 442.3,278.42 443,278.04 443.7,278.85 444.4,278.75 445.1,279.28 445.8,279.97 446.5,279.79 447.2,280.05 447.86,280.62 448.52,280.84 449.18,281.52 449.85,281.47 450.51,281.98 451.17,281.83 451.83,282.03 452.49,282.79 453.15,283.15 453.82,282.75 454.48,282.99 455.14,283.55 455.8,284.36 456.46,284.02 457.12,284.61 457.78,285.16 458.45,285.08 459.11,285.2 459.77,285.48 460.43,285.87 461.09,285.4 461.75,285.84 462.42,286.29 463.08,286.97 463.74,287.2 464.4,286.98 465.06,287.29 465.72,287.01 466.38,287.34 467.05,287.69 467.71,287.67 468.37,288.09 469.03,288.07 469.69,288.37 470.35,288.7 471.02,288.56 471.68,288.88 472.34,289.01 473,289.01 473.66,289.23 474.32,289.2 474.98,289.22 475.65,289.36 476.31,289.44 476.97,289.34 477.63,290.11 478.29,289.54 478.95,290.13 479.62,289.93 480.28,289.87 480.94,290.27 481.6,290.12 482.28,290.29 482.96,290.75 483.64,290.62 484.32,290.52 484.99,290.65 485.67,290.18 486.35,290.9 487.03,290.62 487.71,290.45 488.39,290.66 489.07,290.88 489.75,290.51 490.43,290.68 491.11,291.04 491.78,291.03 492.46,290.87 493.14,290.71 493.82,290.43 494.5,290.62 495.17,290.85 495.84,290.9 496.52,291.19 497.19,290.81 497.86,290.88 498.53,290.78 499.2,290.59 499.88,290.99 500.55,290.71 501.22,290.84 501.89,290.71 502.56,291.03 503.23,290.84 503.91,291.1 504.58,291.37 505.25,291.05 505.92,291.11 506.59,290.92 507.27,290.76 507.94,291.45 508.61,290.79 509.28,291.48 509.95,291.39 510.62,291.15 511.3,291.3 511.97,291.19 512.64,291.31 513.31,291.36 513.98,291.26 514.66,291.2 515.33,291.26 516,291.3 516.68,291.31 517.36,291.36 518.04,291.48 518.72,291.38 519.4,291.4 520.08,291.34 520.76,291.44 521.44,291.47 522.12,291.49 522.8,291.56 523.48,291.42 524.16,291.24 524.84,291.75 525.52,291.7 526.2,291.75 526.88,291.76 527.56,291.39 528.24,291.82 528.92,291.86 529.6,291.83 530.28,291.51 530.96,291.72 531.64,291.9 532.32,291.94 533,291.69 533.68,291.9 534.36,292.04 535.05,291.62 535.73,291.76 536.41,291.88 537.09,291.85 537.77,292.03 538.45,292.28 539.14,292.13 539.82,292.09 540.5,292.21 541.18,292.64 541.86,292.69 542.55,292.26 543.23,292.71 543.91,292.75 544.59,292.51 545.27,292.6 545.95,292.75 546.64,292.49 547.32,292.69 548,292.8" fill="none" stroke="#000" stroke-width="2" stroke-linejoin="round"/>
<polyline points="84.5,296.94 85.17,296.77 85.84,296.81 86.51,296.77 87.18,296.78 87.86,296.97 88.53,296.87 89.2,296.86 89.87,296.97 90.54,297.03 91.21,297 91.88,297 92.55,296.87 93.22,297.04 93.89,297.02 94.57,296.88 95.24,296.91 95.91,297.02 96.58,296.91 97.25,296.92 97.92,296.94 98.59,297.07 99.26,296.97 99.93,297.03 100.61,297.1 101.28,297.15 101.95,297.16 102.62,297.15 103.29,297.14 103.96,296.98 104.63,297.11 105.3,297.2 105.97,297.2 106.64,297.12 107.32,297.21 107.99,297.17 108.66,297.19 109.33,297.17 110,297.14 110.67,297.07 111.33,297.07 112,297.13 112.67,297.26 113.33,297.01 114,297.16 114.67,297.19 115.33,297.17 116,297.1 116.67,297.09 117.33,297.09 118,297.02 118.67,297 119.33,297.02 120,297.01 120.67,297.01 121.33,296.92 122,297.06 122.67,297 123.33,296.91 124,296.81 124.67,296.81 125.33,296.86 126,296.87 126.67,296.79 127.33,296.93 128,296.73 128.67,296.94 129.33,296.67 130,296.86 130.68,296.68 131.36,296.6 132.05,296.7 132.73,296.67 133.41,296.65 134.09,296.69 134.77,296.58 135.45,296.48 136.14,296.56 136.82,296.63 137.5,296.57 138.18,296.32 138.86,296.35 139.55,296.35 140.23,296.33 140.91,296.2 141.59,296.23 142.27,296.18 142.95,296.13 143.64,296.42 144.32,296.24 145,296.22 145.66,296.19 146.33,296.03 146.99,296.06 147.65,295.99 148.32,295.9 148.98,295.8 149.64,295.81 150.31,295.67 150.97,295.53 151.63,295.53 152.29,295.49 152.96,295.29 153.62,295.31 154.28,295.15 154.95,295.15 155.61,295.16 156.27,295.19 156.94,295.19 157.6,295.03 158.28,294.68 158.95,294.67 159.62,294.4 160.3,294.44 160.97,294.31 161.65,294.38 162.32,294.32 163,294.35 163.68,294.1 164.35,293.7 165.03,293.73 165.7,293.92 166.38,293.62 167.05,293.49 167.72,293.3 168.4,292.82 169.08,292.89 169.75,292.73 170.43,292.35 171.1,292.28 171.78,292.34 172.45,292.01 173.12,291.83 173.8,291.56 174.5,291.49 175.2,291.38 175.9,291.15 176.6,290.76 177.3,290.64 178,290.3 178.75,290.62 179.5,290.18 180.25,290.25 181,290.01 181.75,289.29 182.5,289.32 183.2,289.07 183.9,288.11 184.6,288.2 185.3,287.75 186,287.2 186.7,287.11 187.4,286.23 188.1,286.21 188.8,286.11 189.5,285.07 190.2,284.98 190.9,283.93 191.6,283.52 192.3,283.32 193,282.59 193.7,282.17 194.4,281.73 195.1,281.23 195.81,279.66 196.53,279.66 197.24,278.35 197.96,277.74 198.67,276.72 199.39,276.5 200.1,275.4 200.86,273.51 201.62,272.86 202.38,271.94 203.14,271.03 203.9,270.11 204.64,269.1 205.38,267.7 206.12,266.7 206.86,265.58 207.6,264.36 208.5,263.18 209.4,260.68 210.3,258.08 211.2,255.54 212.1,252.73 213,251.66 213.77,249.04 214.53,247.91 215.3,245.35 216.6,240.62 217.27,239.21 217.93,237.77 218.6,236.9 219.32,234.5 220.05,234.13 220.78,231.13 221.5,228.96 222.37,227.44 223.23,223.08 224.1,220.35 225.1,216.16 225.97,212.44 226.83,210.74 227.7,208.97 228.37,205.79 229.03,202.89 229.7,202.74 230.5,199.16 231.3,196.82 232.1,193.48 232.85,191.8 233.6,188.24 234.35,185.31 235.1,184.81 235.77,181.65 236.43,180.05 237.1,175.15 237.77,173.58 238.43,169.82 239.1,169.46 239.77,164.16 240.43,161.82 241.1,156.92 241.9,153.68 242.7,149.6 243.47,147.02 244.25,143.74 245.03,141.68 245.8,137.8 246.5,135.78 247.2,131.19 247.9,129.19 248.6,124.22 249.28,122.98 249.95,118.15 250.62,112.99 251.3,111.04 252.07,106.51 252.83,105.18 253.6,99.45 254.45,96.89 255.3,93.41 256.15,89.85 257,86.37 257.85,80.64 258.7,75.36 259.6,73.2 260.5,69.14 261.35,65.53 262.2,62.3 263,55.65 263.9,55.51 264.8,52.58 265.6,48.36 266.3,45.97 266.8,42.43 267.3,41.29 268.3,38.78 269.4,36.93 269.7,36.71 270.7,35.4 271.8,36.63 272.5,33.4 272.8,31.94 273.5,32.6 274.5,34.1 275.5,33.83 276.2,30.19 276.7,29.63 277.3,30.76 277.6,33.36 278.3,35.74 279,37.74 279.7,41.49 280.7,44.84 281.7,47.99 282.1,50.02 283.4,51.84 284.3,55.2 285.2,59.4 286.1,66.01 286.8,69.29 287.5,73.84 288.33,76.58 289.17,82.61 290,86.41 290.73,88.23 291.45,89.66 292.17,94.69 292.9,97.12 293.62,99 294.35,105.64 295.07,107.23 295.8,111.8 296.5,114.98 297.2,116.44 297.9,117.58 298.6,119.81 299.47,122.98 300.33,124.94 301.2,126.57 302,132.82 302.85,136.59 303.7,138.76 304.57,140.16 305.43,143.49 306.3,144.25 307.07,147.51 307.83,150.04 308.6,151.31 309.27,152.55 309.93,157.23 310.6,157.42 311.47,160.67 312.33,162.64 313.2,164.17 313.88,167.44 314.56,167.18 315.24,169.4 315.92,170.42 316.6,172.16 317.28,171.87 317.95,175.07 318.62,177.06 319.3,178.27 320.17,178.64 321.03,180.72 321.9,182.55 322.58,184.37 323.26,184.4 323.94,185.2 324.62,188.04 325.3,188.99 325.98,189.83 326.66,192.04 327.34,192.76 328.02,193.93 328.7,193.6 329.4,197.06 330.1,196.71 330.8,198.24 331.5,200.33 332.2,200.73 332.88,202.2 333.56,203.29 334.24,205.26 334.92,205.31 335.6,204.87 336.3,206.87 337,208.22 337.7,209.63 338.4,210.43 339.1,212.59 339.8,213.54 340.5,214.91 341.2,215.4 341.9,216.07 342.6,218.98 343.32,219.46 344.03,220.43 344.75,221.64 345.47,224.02 346.18,223.23 346.9,225.94 347.58,226.67 348.26,228.85 348.94,227.86 349.62,230.2 350.3,231.01 350.98,231.5 351.66,232.95 352.34,234.08 353.02,235.66 353.7,237.23 354.42,238.14 355.13,238.52 355.85,239.97 356.57,241.26 357.28,242.78 358,244.91 358.72,246.15 359.43,245.68 360.15,246.59 360.87,249.47 361.58,249.58 362.3,251.52 363,251.15 363.7,252.96 364.4,253.47 365.1,254.65 365.8,255.29 366.52,256.73 367.23,258.35 367.95,257.86 368.67,258.67 369.38,258.89 370.1,260.84 370.82,261.25 371.53,261.89 372.25,262.32 372.97,263.27 373.68,264.63 374.4,263.96 375.13,265.05 375.86,266.26 376.59,266.05 377.31,266.45 378.04,267.17 378.77,267.69 379.5,268.74 380.24,269.89 380.99,269.7 381.73,269.82 382.47,270.66 383.21,271.69 383.96,272.26 384.7,271.91 385.38,272.44 386.06,273.02 386.74,273.31 387.42,273.89 388.1,274.11 388.78,274.61 389.46,274.87 390.14,275.65 390.82,274.85 391.5,275.54 392.21,275.72 392.92,276.13 393.62,276.1 394.33,277.3 395.04,277.18 395.75,277.23 396.46,277.24 397.17,277.73 397.88,277.73 398.58,278.26 399.29,277.84 400,278.12 400.68,278.39 401.35,279.48 402.03,279.53 402.71,279.62 403.38,280.23 404.06,280.59 404.74,280.31 405.42,281.06 406.09,281.17 406.77,280.82 407.45,281.05 408.12,281.87 408.8,281.67 409.51,281.69 410.22,282.03 410.92,282.29 411.63,282.98 412.34,282.54 413.05,283.18 413.75,282.55 414.46,283.13 415.17,283.54 415.88,283.21 416.58,283.4 417.29,283.8 418,283.48 418.71,283.4 419.42,283.64 420.12,283.94 420.83,284.39 421.54,284.11 422.25,284.23 422.95,284.39 423.66,284.68 424.37,284.97 425.08,284.57 425.78,284.85 426.49,284.42 427.2,284.78 427.87,285.26 428.55,285.5 429.22,285.11 429.89,285.11 430.57,285.27 431.24,285.73 431.92,285.56 432.59,286.09 433.26,285.59 433.94,285.9 434.61,285.67 435.28,285.89 435.96,286.36 436.63,286.09 437.31,286.76 437.98,286.94 438.65,286.41 439.33,286.95 440,287.42 440.68,287.45 441.35,287.23 442.03,287.33 442.71,287.51 443.38,287.25 444.06,287.4 444.74,287.46 445.41,287.24 446.09,287.74 446.76,287.48 447.44,288.07 448.12,287.56 448.79,287.64 449.47,287.97 450.15,288.14 450.82,288.56 451.5,288.27 452.18,288.53 452.85,288.09 453.52,288.24 454.2,288.53 454.88,288.8 455.55,288.76 456.23,288.83 456.9,288.81 457.57,288.83 458.25,289.29 458.93,289.52 459.6,289.1 460.28,289.64 460.95,289.42 461.62,289.34 462.3,289.43 462.97,289.56 463.64,289.98 464.31,290.17 464.98,290.44 465.64,290.07 466.31,290.15 466.98,290.33 467.65,290.35 468.32,290.64 468.99,290.78 469.66,290.6 470.32,290.79 470.99,290.59 471.66,290.66 472.33,290.97 473,290.66 473.66,291.15 474.32,291.04 474.98,291.19 475.65,291.54 476.31,291.47 476.97,291.3 477.63,291.35 478.29,291.22 478.95,291.76 479.62,291.45 480.28,291.95 480.94,292.01 481.6,291.9 482.28,291.84 482.96,292.03 483.64,291.97 484.32,291.88 484.99,291.97 485.67,292.15 486.35,292.04 487.03,292.1 487.71,292.61 488.39,292.21 489.07,292.51 489.75,292.52 490.43,292.42 491.11,292.64 491.78,292.66 492.46,292.76 493.14,292.75 493.82,292.68 494.5,292.85 495.17,292.63 495.84,292.83 496.52,292.67 497.19,292.93 497.86,293.1 498.53,293.21 499.2,292.81 499.88,292.89 500.55,292.88 501.22,293.05 501.89,292.97 502.56,292.94 503.23,293.16 503.91,292.87 504.58,293.33 505.25,293.28 505.92,293.35 506.59,293.12 507.27,293.22 507.94,293.45 508.61,293.22 509.28,293.49 509.95,293.38 510.62,293.37 511.3,293.6 511.97,293.72 512.64,293.48 513.31,293.27 513.98,293.65 514.66,293.37 515.33,293.62 516,293.48 516.67,293.88 517.33,293.75 518,293.81 518.67,293.63 519.33,293.81 520,293.95 520.67,293.94 521.33,293.62 522,293.97 522.67,293.73 523.33,293.5 524,293.6 524.67,293.85 525.33,293.9 526,293.64 526.67,293.85 527.33,294 528,293.98 528.67,293.8 529.33,293.67 530,293.74 530.67,293.99 531.33,293.72 532,294.02 532.67,293.71 533.33,293.83 534,294.01 534.67,293.8 535.33,294.18 536,294.14 536.67,294.31 537.33,294.06 538,294.17 538.67,294.08 539.33,293.97 540,294.13 540.67,294.03 541.33,294.13 542,294.34 542.67,294.14 543.33,294.01 544,294.46 544.67,294.13 545.33,294.45 546,294.47 546.67,294.4 547.33,294.28 548,294.3" fill="none" stroke="#000" stroke-width="2" stroke-linejoin="round"/>
<rect x="85" y="9" width="1.6" height="290" fill="#000"/>
<rect x="548" y="9" width="1.6" height="290" fill="#000"/>
<rect x="85" y="9" width="464.6" height="1.2" fill="#000"/>
<rect x="85" y="298" width="464.6" height="1" fill="#000"/>
<line x1="87" y1="10.6" x2="548" y2="10.6" stroke="#000" stroke-width="1" stroke-dasharray="1.1 0.55" opacity="0.8"/>
<line x1="87" y1="299.5" x2="548" y2="299.5" stroke="#000" stroke-width="1" stroke-dasharray="1.1 0.55" opacity="0.7"/>
<line x1="98.5" y1="10" x2="98.5" y2="13" stroke="#000" stroke-width="1"/>
<line x1="98.5" y1="295.5" x2="98.5" y2="298" stroke="#000" stroke-width="1"/>
<line x1="111.5" y1="10" x2="111.5" y2="13" stroke="#000" stroke-width="1"/>
<line x1="111.5" y1="295.5" x2="111.5" y2="298" stroke="#000" stroke-width="1"/>
<line x1="125.5" y1="10" x2="125.5" y2="13" stroke="#000" stroke-width="1"/>
<line x1="125.5" y1="295.5" x2="125.5" y2="298" stroke="#000" stroke-width="1"/>
<line x1="138.5" y1="10" x2="138.5" y2="13" stroke="#000" stroke-width="1"/>
<line x1="138.5" y1="295.5" x2="138.5" y2="298" stroke="#000" stroke-width="1"/>
<line x1="151.5" y1="10" x2="151.5" y2="15" stroke="#000" stroke-width="1"/>
<line x1="151.5" y1="293" x2="151.5" y2="298" stroke="#000" stroke-width="1"/>
<line x1="164.5" y1="10" x2="164.5" y2="13" stroke="#000" stroke-width="1"/>
<line x1="164.5" y1="295.5" x2="164.5" y2="298" stroke="#000" stroke-width="1"/>
<line x1="178.5" y1="10" x2="178.5" y2="13" stroke="#000" stroke-width="1"/>
<line x1="178.5" y1="295.5" x2="178.5" y2="298" stroke="#000" stroke-width="1"/>
<line x1="191.5" y1="10" x2="191.5" y2="13" stroke="#000" stroke-width="1"/>
<line x1="191.5" y1="295.5" x2="191.5" y2="298" stroke="#000" stroke-width="1"/>
<line x1="204.5" y1="10" x2="204.5" y2="13" stroke="#000" stroke-width="1"/>
<line x1="204.5" y1="295.5" x2="204.5" y2="298" stroke="#000" stroke-width="1"/>
<line x1="217.5" y1="10" x2="217.5" y2="15" stroke="#000" stroke-width="1"/>
<line x1="217.5" y1="293" x2="217.5" y2="298" stroke="#000" stroke-width="1"/>
<line x1="231.5" y1="10" x2="231.5" y2="13" stroke="#000" stroke-width="1"/>
<line x1="231.5" y1="295.5" x2="231.5" y2="298" stroke="#000" stroke-width="1"/>
<line x1="244.5" y1="10" x2="244.5" y2="13" stroke="#000" stroke-width="1"/>
<line x1="244.5" y1="295.5" x2="244.5" y2="298" stroke="#000" stroke-width="1"/>
<line x1="257.5" y1="10" x2="257.5" y2="13" stroke="#000" stroke-width="1"/>
<line x1="257.5" y1="295.5" x2="257.5" y2="298" stroke="#000" stroke-width="1"/>
<line x1="270.5" y1="10" x2="270.5" y2="13" stroke="#000" stroke-width="1"/>
<line x1="270.5" y1="295.5" x2="270.5" y2="298" stroke="#000" stroke-width="1"/>
<line x1="283.5" y1="10" x2="283.5" y2="15" stroke="#000" stroke-width="1"/>
<line x1="283.5" y1="293" x2="283.5" y2="298" stroke="#000" stroke-width="1"/>
<line x1="297.5" y1="10" x2="297.5" y2="13" stroke="#000" stroke-width="1"/>
<line x1="297.5" y1="295.5" x2="297.5" y2="298" stroke="#000" stroke-width="1"/>
<line x1="310.5" y1="10" x2="310.5" y2="13" stroke="#000" stroke-width="1"/>
<line x1="310.5" y1="295.5" x2="310.5" y2="298" stroke="#000" stroke-width="1"/>
<line x1="323.5" y1="10" x2="323.5" y2="13" stroke="#000" stroke-width="1"/>
<line x1="323.5" y1="295.5" x2="323.5" y2="298" stroke="#000" stroke-width="1"/>
<line x1="336.5" y1="10" x2="336.5" y2="13" stroke="#000" stroke-width="1"/>
<line x1="336.5" y1="295.5" x2="336.5" y2="298" stroke="#000" stroke-width="1"/>
<line x1="350.5" y1="10" x2="350.5" y2="15" stroke="#000" stroke-width="1"/>
<line x1="350.5" y1="293" x2="350.5" y2="298" stroke="#000" stroke-width="1"/>
<line x1="363.5" y1="10" x2="363.5" y2="13" stroke="#000" stroke-width="1"/>
<line x1="363.5" y1="295.5" x2="363.5" y2="298" stroke="#000" stroke-width="1"/>
<line x1="376.5" y1="10" x2="376.5" y2="13" stroke="#000" stroke-width="1"/>
<line x1="376.5" y1="295.5" x2="376.5" y2="298" stroke="#000" stroke-width="1"/>
<line x1="389.5" y1="10" x2="389.5" y2="13" stroke="#000" stroke-width="1"/>
<line x1="389.5" y1="295.5" x2="389.5" y2="298" stroke="#000" stroke-width="1"/>
<line x1="402.5" y1="10" x2="402.5" y2="13" stroke="#000" stroke-width="1"/>
<line x1="402.5" y1="295.5" x2="402.5" y2="298" stroke="#000" stroke-width="1"/>
<line x1="416.5" y1="10" x2="416.5" y2="15" stroke="#000" stroke-width="1"/>
<line x1="416.5" y1="293" x2="416.5" y2="298" stroke="#000" stroke-width="1"/>
<line x1="429.5" y1="10" x2="429.5" y2="13" stroke="#000" stroke-width="1"/>
<line x1="429.5" y1="295.5" x2="429.5" y2="298" stroke="#000" stroke-width="1"/>
<line x1="442.5" y1="10" x2="442.5" y2="13" stroke="#000" stroke-width="1"/>
<line x1="442.5" y1="295.5" x2="442.5" y2="298" stroke="#000" stroke-width="1"/>
<line x1="455.5" y1="10" x2="455.5" y2="13" stroke="#000" stroke-width="1"/>
<line x1="455.5" y1="295.5" x2="455.5" y2="298" stroke="#000" stroke-width="1"/>
<line x1="469.5" y1="10" x2="469.5" y2="13" stroke="#000" stroke-width="1"/>
<line x1="469.5" y1="295.5" x2="469.5" y2="298" stroke="#000" stroke-width="1"/>
<line x1="482.5" y1="10" x2="482.5" y2="15" stroke="#000" stroke-width="1"/>
<line x1="482.5" y1="293" x2="482.5" y2="298" stroke="#000" stroke-width="1"/>
<line x1="495.5" y1="10" x2="495.5" y2="13" stroke="#000" stroke-width="1"/>
<line x1="495.5" y1="295.5" x2="495.5" y2="298" stroke="#000" stroke-width="1"/>
<line x1="508.5" y1="10" x2="508.5" y2="13" stroke="#000" stroke-width="1"/>
<line x1="508.5" y1="295.5" x2="508.5" y2="298" stroke="#000" stroke-width="1"/>
<line x1="522.5" y1="10" x2="522.5" y2="13" stroke="#000" stroke-width="1"/>
<line x1="522.5" y1="295.5" x2="522.5" y2="298" stroke="#000" stroke-width="1"/>
<line x1="535.5" y1="10" x2="535.5" y2="13" stroke="#000" stroke-width="1"/>
<line x1="535.5" y1="295.5" x2="535.5" y2="298" stroke="#000" stroke-width="1"/>
<line x1="86" y1="288.5" x2="89" y2="288.5" stroke="#000" stroke-width="1"/>
<line x1="545" y1="288.5" x2="548" y2="288.5" stroke="#000" stroke-width="1"/>
<line x1="86" y1="279.5" x2="89" y2="279.5" stroke="#000" stroke-width="1"/>
<line x1="545" y1="279.5" x2="548" y2="279.5" stroke="#000" stroke-width="1"/>
<line x1="86" y1="269.5" x2="89" y2="269.5" stroke="#000" stroke-width="1"/>
<line x1="545" y1="269.5" x2="548" y2="269.5" stroke="#000" stroke-width="1"/>
<line x1="86" y1="260.5" x2="89" y2="260.5" stroke="#000" stroke-width="1"/>
<line x1="545" y1="260.5" x2="548" y2="260.5" stroke="#000" stroke-width="1"/>
<line x1="86" y1="250.5" x2="89" y2="250.5" stroke="#000" stroke-width="1"/>
<line x1="545" y1="250.5" x2="548" y2="250.5" stroke="#000" stroke-width="1"/>
<line x1="86" y1="240.5" x2="89" y2="240.5" stroke="#000" stroke-width="1"/>
<line x1="545" y1="240.5" x2="548" y2="240.5" stroke="#000" stroke-width="1"/>
<line x1="86" y1="231.5" x2="89" y2="231.5" stroke="#000" stroke-width="1"/>
<line x1="545" y1="231.5" x2="548" y2="231.5" stroke="#000" stroke-width="1"/>
<line x1="86" y1="221.5" x2="89" y2="221.5" stroke="#000" stroke-width="1"/>
<line x1="545" y1="221.5" x2="548" y2="221.5" stroke="#000" stroke-width="1"/>
<line x1="86" y1="211.5" x2="89" y2="211.5" stroke="#000" stroke-width="1"/>
<line x1="545" y1="211.5" x2="548" y2="211.5" stroke="#000" stroke-width="1"/>
<line x1="86" y1="202.5" x2="89" y2="202.5" stroke="#000" stroke-width="1"/>
<line x1="545" y1="202.5" x2="548" y2="202.5" stroke="#000" stroke-width="1"/>
<line x1="86" y1="192.5" x2="89" y2="192.5" stroke="#000" stroke-width="1"/>
<line x1="545" y1="192.5" x2="548" y2="192.5" stroke="#000" stroke-width="1"/>
<line x1="86" y1="183.5" x2="89" y2="183.5" stroke="#000" stroke-width="1"/>
<line x1="545" y1="183.5" x2="548" y2="183.5" stroke="#000" stroke-width="1"/>
<line x1="86" y1="173.5" x2="89" y2="173.5" stroke="#000" stroke-width="1"/>
<line x1="545" y1="173.5" x2="548" y2="173.5" stroke="#000" stroke-width="1"/>
<line x1="86" y1="163.5" x2="89" y2="163.5" stroke="#000" stroke-width="1"/>
<line x1="545" y1="163.5" x2="548" y2="163.5" stroke="#000" stroke-width="1"/>
<line x1="86" y1="154.5" x2="89" y2="154.5" stroke="#000" stroke-width="1"/>
<line x1="545" y1="154.5" x2="548" y2="154.5" stroke="#000" stroke-width="1"/>
<line x1="86" y1="144.5" x2="89" y2="144.5" stroke="#000" stroke-width="1"/>
<line x1="545" y1="144.5" x2="548" y2="144.5" stroke="#000" stroke-width="1"/>
<line x1="86" y1="134.5" x2="89" y2="134.5" stroke="#000" stroke-width="1"/>
<line x1="545" y1="134.5" x2="548" y2="134.5" stroke="#000" stroke-width="1"/>
<line x1="86" y1="125.5" x2="89" y2="125.5" stroke="#000" stroke-width="1"/>
<line x1="545" y1="125.5" x2="548" y2="125.5" stroke="#000" stroke-width="1"/>
<line x1="86" y1="115.5" x2="89" y2="115.5" stroke="#000" stroke-width="1"/>
<line x1="545" y1="115.5" x2="548" y2="115.5" stroke="#000" stroke-width="1"/>
<line x1="86" y1="106.5" x2="89" y2="106.5" stroke="#000" stroke-width="1"/>
<line x1="545" y1="106.5" x2="548" y2="106.5" stroke="#000" stroke-width="1"/>
<line x1="86" y1="96.5" x2="89" y2="96.5" stroke="#000" stroke-width="1"/>
<line x1="545" y1="96.5" x2="548" y2="96.5" stroke="#000" stroke-width="1"/>
<line x1="86" y1="86.5" x2="89" y2="86.5" stroke="#000" stroke-width="1"/>
<line x1="545" y1="86.5" x2="548" y2="86.5" stroke="#000" stroke-width="1"/>
<line x1="86" y1="77.5" x2="89" y2="77.5" stroke="#000" stroke-width="1"/>
<line x1="545" y1="77.5" x2="548" y2="77.5" stroke="#000" stroke-width="1"/>
<line x1="86" y1="67.5" x2="89" y2="67.5" stroke="#000" stroke-width="1"/>
<line x1="545" y1="67.5" x2="548" y2="67.5" stroke="#000" stroke-width="1"/>
<line x1="86" y1="58.5" x2="89" y2="58.5" stroke="#000" stroke-width="1"/>
<line x1="545" y1="58.5" x2="548" y2="58.5" stroke="#000" stroke-width="1"/>
<line x1="86" y1="48.5" x2="89" y2="48.5" stroke="#000" stroke-width="1"/>
<line x1="545" y1="48.5" x2="548" y2="48.5" stroke="#000" stroke-width="1"/>
<line x1="86" y1="38.5" x2="89" y2="38.5" stroke="#000" stroke-width="1"/>
<line x1="545" y1="38.5" x2="548" y2="38.5" stroke="#000" stroke-width="1"/>
<line x1="86" y1="29.5" x2="89" y2="29.5" stroke="#000" stroke-width="1"/>
<line x1="545" y1="29.5" x2="548" y2="29.5" stroke="#000" stroke-width="1"/>
<line x1="86" y1="19.5" x2="89" y2="19.5" stroke="#000" stroke-width="1"/>
<line x1="545" y1="19.5" x2="548" y2="19.5" stroke="#000" stroke-width="1"/>
<text transform="translate(62.4,14.7) scale(1,1.1)" font-size="13.33" text-anchor="end" >3 10</text>
<text transform="translate(73.8,6.8) scale(1,1.0)" font-size="9.33" text-anchor="end" >4</text>
<text transform="translate(59.7,62.9) scale(1,1.1)" font-size="13.33" text-anchor="end" >2.5 10</text>
<text transform="translate(73.8,54.6) scale(1,1.0)" font-size="9.33" text-anchor="end" >4</text>
<text transform="translate(62.2,110.8) scale(1,1.1)" font-size="13.33" text-anchor="end" >2 10</text>
<text transform="translate(73.8,103.8) scale(1,1.0)" font-size="9.33" text-anchor="end" >4</text>
<text transform="translate(59.7,158.8) scale(1,1.1)" font-size="13.33" text-anchor="end" >1.5 10</text>
<text transform="translate(73.8,150.9) scale(1,1.0)" font-size="9.33" text-anchor="end" >4</text>
<text transform="translate(62.2,206.8) scale(1,1.1)" font-size="13.33" text-anchor="end" >1 10</text>
<text transform="translate(73.8,199.8) scale(1,1.0)" font-size="9.33" text-anchor="end" >4</text>
<text transform="translate(67.8,254.3) scale(1,1.1)" font-size="13.33" text-anchor="end" >5000</text>
<text transform="translate(73.1,303.0) scale(1,1.1)" font-size="13.33" text-anchor="end" >0</text>
<text transform="translate(82.8,320.6) scale(1,1.1)" font-size="13.33" text-anchor="middle" >350</text>
<text transform="translate(149,320.6) scale(1,1.1)" font-size="13.33" text-anchor="middle" >360</text>
<text transform="translate(215,320.6) scale(1,1.1)" font-size="13.33" text-anchor="middle" >370</text>
<text transform="translate(281,320.6) scale(1,1.1)" font-size="13.33" text-anchor="middle" >380</text>
<text transform="translate(348,320.6) scale(1,1.1)" font-size="13.33" text-anchor="middle" >390</text>
<text transform="translate(414,320.6) scale(1,1.1)" font-size="13.33" text-anchor="middle" >400</text>
<text transform="translate(480,320.6) scale(1,1.1)" font-size="13.33" text-anchor="middle" >410</text>
<text transform="translate(546,320.6) scale(1,1.1)" font-size="13.33" text-anchor="middle" >420</text>
<text transform="translate(306.8,345.8) scale(1,1.03)" font-size="13.6" text-anchor="middle" >Wavelength (nm)</text>
<text transform="translate(403,40.7) scale(1,1.1)" font-size="13.33" text-anchor="start" >T = 300 K</text>
<text transform="translate(12.3,208.3) rotate(-90) scale(0.847,1)" font-size="16"><tspan stroke="#000" stroke-width="0.35">PL intensity</tspan> (A. U.)</text>
</svg>
</body></html>
